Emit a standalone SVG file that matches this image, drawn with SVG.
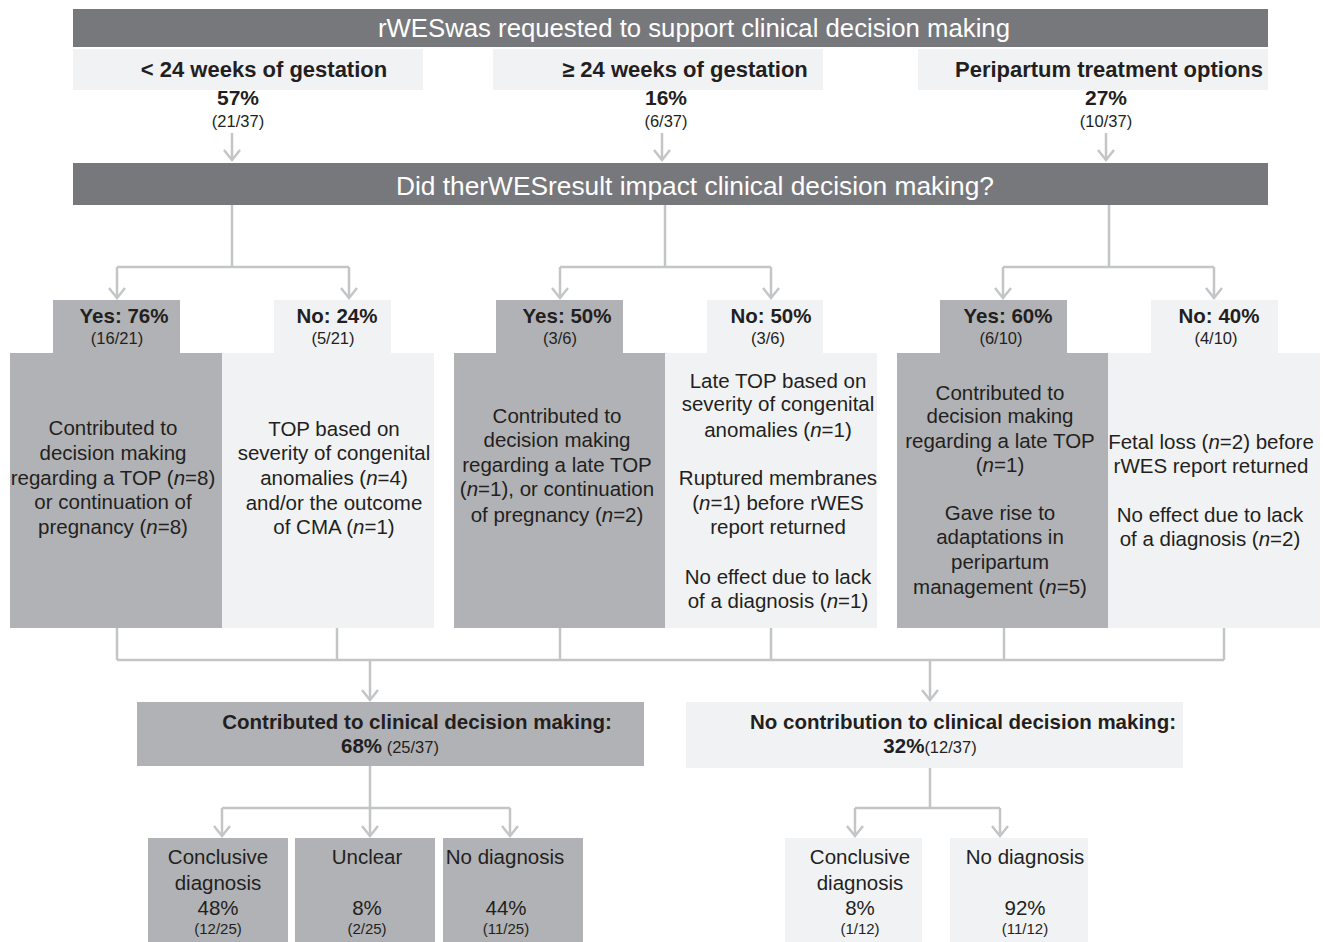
<svg xmlns="http://www.w3.org/2000/svg" width="1323" height="942" viewBox="0 0 1323 942">
<style>
text{font-family:"Liberation Sans",Arial,sans-serif;fill:#231f20;text-anchor:middle}
.hdr{font-size:25.5px;fill:#ffffff}
.cat{font-size:22px;font-weight:bold}
.pct{font-size:20.5px;font-weight:bold}
.pct2{font-size:21px;font-weight:bold}
.frac{font-size:16.5px}
.sfrac{font-size:15px}
.body{font-size:20.5px}
.dark{fill:#77787c}
.mid{fill:#b1b2b5}
.light{fill:#f1f2f4}
.conn{fill:none;stroke:#c4c5c7;stroke-width:2.5}
.arr{marker-end:url(#ah)}
</style>
<defs>
<marker id="ah" markerUnits="userSpaceOnUse" markerWidth="16" markerHeight="22" viewBox="-13 -11 16 22" refX="0" refY="0" orient="auto">
<path d="M-10,-8 L0,0 L-10,8" fill="none" stroke="#c4c5c7" stroke-width="2.5"/>
</marker>
</defs>

<g id="top-bar">
<rect class="dark" x="73" y="9" width="1195" height="38"/>
<text class="hdr" x="694" y="37" textLength="632" lengthAdjust="spacingAndGlyphs">rWESwas requested to support clinical decision making</text>
</g>
<g id="cat1">
<rect class="light" x="73" y="49" width="350" height="41"/>
<text class="cat" x="264" y="77">&lt; 24 weeks of gestation</text>
<text class="pct2" x="238" y="105">57%</text>
<text class="frac" x="238" y="127">(21/37)</text>
</g>
<g id="cat2">
<rect class="light" x="493" y="49" width="330" height="41"/>
<text class="cat" x="685" y="77">≥ 24 weeks of gestation</text>
<text class="pct2" x="666" y="105">16%</text>
<text class="frac" x="666" y="127">(6/37)</text>
</g>
<g id="cat3">
<rect class="light" x="918" y="49" width="350" height="41"/>
<text class="cat" x="1109" y="77">Peripartum treatment options</text>
<text class="pct2" x="1106" y="105">27%</text>
<text class="frac" x="1106" y="127">(10/37)</text>
</g>
<g id="question-bar">
<rect class="dark" x="73" y="163" width="1195" height="42"/>
<text class="hdr" x="695" y="195" textLength="598" lengthAdjust="spacingAndGlyphs">Did therWESresult impact clinical decision making?</text>
</g>

<g id="yes1">
<rect class="mid" x="53" y="300" width="127" height="53"/>
<rect class="mid" x="10" y="353" width="212" height="275"/>
<text class="pct" x="124" y="323">Yes: 76%</text>
<text class="frac" x="117" y="344">(16/21)</text>
<text class="body" x="113" y="435">Contributed to</text>
<text class="body" x="113" y="460">decision making</text>
<text class="body" x="113" y="485">regarding a TOP (<tspan font-style="italic">n</tspan>=8)</text>
<text class="body" x="113" y="509">or continuation of</text>
<text class="body" x="113" y="534">pregnancy (<tspan font-style="italic">n</tspan>=8)</text>
</g>
<g id="no1">
<rect class="light" x="274" y="300" width="117" height="53"/>
<rect class="light" x="222" y="353" width="212" height="275"/>
<text class="pct" x="337" y="323">No: 24%</text>
<text class="frac" x="333" y="344">(5/21)</text>
<text class="body" x="334" y="436">TOP based on</text>
<text class="body" x="334" y="460">severity of congenital</text>
<text class="body" x="334" y="485">anomalies (<tspan font-style="italic">n</tspan>=4)</text>
<text class="body" x="334" y="510">and/or the outcome</text>
<text class="body" x="334" y="534">of CMA (<tspan font-style="italic">n</tspan>=1)</text>
</g>

<g id="yes2">
<rect class="mid" x="496" y="300" width="127" height="53"/>
<rect class="mid" x="454" y="353" width="211" height="275"/>
<text class="pct" x="567" y="323">Yes: 50%</text>
<text class="frac" x="560" y="344">(3/6)</text>
<text class="body" x="557" y="423">Contributed to</text>
<text class="body" x="557" y="447">decision making</text>
<text class="body" x="557" y="472">regarding a late TOP</text>
<text class="body" x="557" y="496">(<tspan font-style="italic">n</tspan>=1),  or continuation</text>
<text class="body" x="557" y="522">of pregnancy (<tspan font-style="italic">n</tspan>=2)</text>
</g>
<g id="no2">
<rect class="light" x="707" y="300" width="116" height="53"/>
<rect class="light" x="665" y="353" width="212" height="275"/>
<text class="pct" x="771" y="323">No: 50%</text>
<text class="frac" x="768" y="344">(3/6)</text>
<text class="body" x="778" y="388">Late TOP based on</text>
<text class="body" x="778" y="411">severity of congenital</text>
<text class="body" x="778" y="437">anomalies (<tspan font-style="italic">n</tspan>=1)</text>
<text class="body" x="778" y="485">Ruptured membranes</text>
<text class="body" x="778" y="510">(<tspan font-style="italic">n</tspan>=1) before rWES</text>
<text class="body" x="778" y="534">report returned</text>
<text class="body" x="778" y="584">No effect due to lack</text>
<text class="body" x="778" y="608">of a diagnosis (<tspan font-style="italic">n</tspan>=1)</text>
</g>

<g id="yes3">
<rect class="mid" x="940" y="300" width="127" height="53"/>
<rect class="mid" x="897" y="353" width="211" height="275"/>
<text class="pct" x="1008" y="323">Yes: 60%</text>
<text class="frac" x="1001" y="344">(6/10)</text>
<text class="body" x="1000" y="400">Contributed to</text>
<text class="body" x="1000" y="423">decision making</text>
<text class="body" x="1000" y="448">regarding a late TOP</text>
<text class="body" x="1000" y="472">(<tspan font-style="italic">n</tspan>=1)</text>
<text class="body" x="1000" y="520">Gave rise to</text>
<text class="body" x="1000" y="544">adaptations in</text>
<text class="body" x="1000" y="569">peripartum</text>
<text class="body" x="1000" y="594">management (<tspan font-style="italic">n</tspan>=5)</text>
</g>
<g id="no3">
<rect class="light" x="1151" y="300" width="127" height="53"/>
<rect class="light" x="1108" y="353" width="212" height="275"/>
<text class="pct" x="1219" y="323">No: 40%</text>
<text class="frac" x="1216" y="344">(4/10)</text>
<text class="body" x="1211" y="449">Fetal loss (<tspan font-style="italic">n</tspan>=2) before</text>
<text class="body" x="1211" y="473">rWES report returned</text>
<text class="body" x="1210" y="522">No effect due to lack</text>
<text class="body" x="1210" y="546">of a diagnosis (<tspan font-style="italic">n</tspan>=2)</text>
</g>

<g id="contributed">
<rect class="mid" x="137" y="702" width="507" height="64"/>
<text class="pct" x="417" y="729">Contributed to clinical decision making:</text>
<text x="390" y="753"><tspan class="pct">68%</tspan><tspan class="frac"> (25/37)</tspan></text>
</g>
<g id="no-contribution">
<rect class="light" x="686" y="702" width="497" height="66"/>
<text class="pct" x="963" y="729">No contribution to clinical decision making:</text>
<text x="930" y="753"><tspan class="pct">32%</tspan><tspan class="frac">(12/37)</tspan></text>
</g>

<g id="c-conclusive">
<rect class="mid" x="148" y="838" width="140" height="104"/>
<text class="body" x="218" y="864">Conclusive</text>
<text class="body" x="218" y="890">diagnosis</text>
<text class="body" x="218" y="915">48%</text>
<text class="sfrac" x="218" y="934">(12/25)</text>
</g>
<g id="c-unclear">
<rect class="mid" x="295" y="838" width="140" height="104"/>
<text class="body" x="367" y="864">Unclear</text>
<text class="body" x="367" y="915">8%</text>
<text class="sfrac" x="367" y="934">(2/25)</text>
</g>
<g id="c-nodiag">
<rect class="mid" x="443" y="838" width="140" height="104"/>
<text class="body" x="505" y="864">No diagnosis</text>
<text class="body" x="506" y="915">44%</text>
<text class="sfrac" x="506" y="934">(11/25)</text>
</g>
<g id="n-conclusive">
<rect class="light" x="785" y="838" width="137" height="104"/>
<text class="body" x="860" y="864">Conclusive</text>
<text class="body" x="860" y="890">diagnosis</text>
<text class="body" x="860" y="915">8%</text>
<text class="sfrac" x="860" y="934">(1/12)</text>
</g>
<g id="n-nodiag">
<rect class="light" x="950" y="838" width="138" height="104"/>
<text class="body" x="1025" y="864">No diagnosis</text>
<text class="body" x="1025" y="915">92%</text>
<text class="sfrac" x="1025" y="934">(11/12)</text>
</g>

<g id="connectors">
<path class="conn arr" d="M232,133 V160"/>
<path class="conn arr" d="M662,133 V160"/>
<path class="conn arr" d="M1106,133 V160"/>
<path class="conn" d="M232,205 V267 M117,267 H349 M665,205 V267 M560,267 H771 M1109,205 V267 M1003,267 H1214"/>
<path class="conn arr" d="M117,267 V298"/>
<path class="conn arr" d="M349,267 V298"/>
<path class="conn arr" d="M560,267 V298"/>
<path class="conn arr" d="M771,267 V298"/>
<path class="conn arr" d="M1003,267 V298"/>
<path class="conn arr" d="M1214,267 V298"/>
<path class="conn" d="M117,628 V660 M337,628 V660 M560,628 V660 M771,628 V660 M1004,628 V660 M1224,628 V660 M117,660 H1224"/>
<path class="conn arr" d="M370,660 V700"/>
<path class="conn arr" d="M930,660 V700"/>
<path class="conn" d="M370,766 V808 M222,808 H510 M930,768 V808 M855,808 H1000"/>
<path class="conn arr" d="M222,808 V836"/>
<path class="conn arr" d="M370,808 V836"/>
<path class="conn arr" d="M510,808 V836"/>
<path class="conn arr" d="M855,808 V836"/>
<path class="conn arr" d="M1000,808 V836"/>
</g>
</svg>
